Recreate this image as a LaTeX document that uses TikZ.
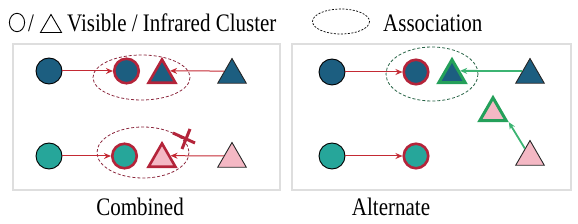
\documentclass[tikz,border=0pt]{standalone}
\usepackage{fontspec}
\setmainfont{Liberation Serif}
\newfontfamily\serifx{Liberation Serif}
\usepackage{graphicx}
\usetikzlibrary{shapes.geometric,arrows.meta}
\definecolor{dblue}{RGB}{28,94,128}
\definecolor{teal1}{RGB}{38,166,154}
\definecolor{pink1}{RGB}{244,184,196}
\definecolor{red1}{RGB}{180,36,58}
\definecolor{redarr}{RGB}{196,42,52}
\definecolor{green1}{RGB}{36,160,90}
\definecolor{greenarr}{RGB}{60,180,115}
\definecolor{reddash}{RGB}{140,40,62}
\definecolor{greendash}{RGB}{40,100,70}
\definecolor{panelgray}{RGB}{222,222,222}
\tikzset{
  circ/.style={circle,draw=black,line width=0.9pt,minimum size=26pt,inner sep=0pt},
  circred/.style={circle,draw=red1,line width=2.6pt,minimum size=24.5pt,inner sep=0pt},
  tri/.style={regular polygon,regular polygon sides=3,draw=black!85,line width=0.9pt,minimum size=33pt,inner sep=0pt},
  trired/.style={regular polygon,regular polygon sides=3,draw=red1,line width=2.6pt,minimum size=31pt,inner sep=0pt},
  trigreen/.style={regular polygon,regular polygon sides=3,draw=green1,line width=3pt,minimum size=30.5pt,inner sep=0pt},
  rarrow/.style={draw=redarr,line width=1pt,-{Stealth[length=7pt,width=6pt]}},
  garrow/.style={draw=greenarr,line width=1.8pt,-{Stealth[length=7pt,width=6pt]}},
  assocred/.style={draw=reddash,line width=0.8pt,dash pattern=on 3pt off 2pt},
  assocgreen/.style={draw=greendash,line width=0.8pt,dash pattern=on 3pt off 2pt},
  panel/.style={draw=panelgray,line width=2pt},
  txt/.style={inner sep=0pt,font=\serifx\fontsize{21}{25}\selectfont},
  crossx/.style={draw=red1,line width=3pt}
}
\newcommand{\tallt}[1]{\scalebox{1}[1.2]{#1}}
\begin{document}
\begin{tikzpicture}[x=1pt,y=-1pt]
\useasboundingbox (0,0) rectangle (578,224);
% legend
\draw[black,line width=0.9pt] (17,22.5) ellipse [x radius=7.6, y radius=9.2];
\node[txt,anchor=base] (slash) at (31,31.7) {\tallt{/}};
\draw[black,line width=0.9pt] (51,14.5) -- (40.5,32.5) -- (61.5,32.5) -- cycle;
\node[txt,anchor=base west] (leg1) at (67,31.7) {\tallt{Visible / Infrared Cluster}};
\draw[black,line width=0.7pt,dash pattern=on 2pt off 1.5pt] (341,21.5) ellipse [x radius=28.5, y radius=12.5];
\node[txt,anchor=base west] (leg2) at (383,31.7) {\tallt{Association}};
% panels
\draw[panel] (13,44) rectangle (280,190);
\draw[panel] (292,44) rectangle (571,190);
% left panel, row 1
\node[circ,fill=dblue] (lc1) at (49,71) {};
\node[circred,fill=dblue] (lc2) at (126.5,71) {};
\node[trired,fill=dblue] (lt2) at (162,75) {};
\node[tri,fill=dblue] (lt3) at (232,75) {};
\draw[assocred] (141.5,77.5) ellipse [x radius=48.5, y radius=22.5];
\draw[rarrow] (lc1) -- (lc2);
\draw[rarrow] (lt3.153) -- (lt2.27);
% left panel, row 2
\node[circ,fill=teal1] (lc3) at (49,156) {};
\node[circred,fill=teal1] (lc4) at (124.5,156) {};
\node[trired,fill=pink1] (lt4) at (162,159) {};
\node[tri,fill=pink1] (lt5) at (232,159) {};
\draw[assocred] (143,152.5) ellipse [x radius=46, y radius=25.5];
\draw[rarrow] (lc3) -- (lc4);
\draw[rarrow] (lt5.159) -- (lt4.21);
\draw[crossx] (173,133) -- (195,143);
\draw[crossx] (190,129) -- (182,149);
% right panel, row 1
\node[circ,fill=dblue] (rc1) at (332,72) {};
\node[circred,fill=dblue] (rc2) at (416,72) {};
\node[trigreen,fill=dblue] (rt2) at (452,75) {};
\node[tri,fill=dblue] (rt3) at (530,75) {};
\draw[assocgreen] (432,74) ellipse [x radius=46, y radius=27];
\draw[rarrow] (rc1) -- (rc2);
\draw[garrow] (rt3.153) -- (rt2.27);
% right panel, middle and row 2
\node[trigreen,fill=pink1] (rtm) at (493,113) {};
\node[tri,fill=pink1] (rtb) at (530,157) {};
\draw[garrow] (rtb) -- (rtm.corner 3);
\node[circ,fill=teal1] (rc3) at (332,156) {};
\node[circred,fill=teal1] (rc4) at (416,156) {};
\draw[rarrow] (rc3) -- (rc4);
% captions
\node[txt,anchor=base] (cap1) at (140,215) {\tallt{Combined}};
\node[txt,anchor=base] (cap2) at (391,215) {\tallt{Alternate}};
\end{tikzpicture}
\end{document}
